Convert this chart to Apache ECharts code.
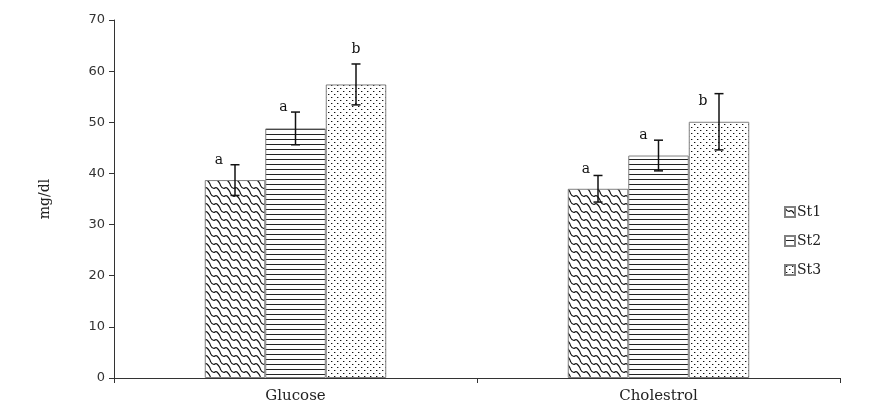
<!DOCTYPE html>
<html>
<head>
<meta charset="utf-8">
<script src="https://cdn.jsdelivr.net/npm/echarts@6/dist/echarts.min.js"></script>
<style>html,body{margin:0;padding:0;background:#fff}#c{width:895px;height:409px}</style>
</head>
<body>
<div id="c"></div>
<script>
// ---- data ----
const categories = ['Glucose', 'Cholestrol'];
const seriesNames = ['St1', 'St2', 'St3'];
const st1 = [38.7, 37.0];
const st2 = [48.8, 43.5];
const st3 = [57.4, 50.1];
const st1Err = [3.0, 2.6];
const st2Err = [3.2, 3.0];
const st3Err = [4.0, 5.5];
const st1Letters = ['a', 'a'];
const st2Letters = ['a', 'a'];
const st3Letters = ['b', 'b'];
const yTicks = [0, 10, 20, 30, 40, 50, 60, 70];

// ---- patterns ----
function tile(w, h, draw) {
  const c = document.createElement('canvas');
  c.width = w; c.height = h;
  const ctx = c.getContext('2d');
  ctx.fillStyle = '#fff';
  ctx.fillRect(0, 0, w, h);
  draw(ctx, w, h);
  return c;
}
const pat1 = tile(10, 8, (ctx, w, h) => {
  ctx.strokeStyle = '#111';
  ctx.lineWidth = 1.1;
  for (const ox of [-w, 0, w]) {
    for (const oy of [-h, 0, h]) {
      ctx.beginPath();
      ctx.moveTo(ox + 0, oy + 0);
      ctx.quadraticCurveTo(ox + 1, oy + 4, ox + 4, oy + 4.5);
      ctx.quadraticCurveTo(ox + 6, oy + 3, ox + 7, oy + 4);
      ctx.quadraticCurveTo(ox + 9, oy + 6, ox + 10, oy + 8);
      ctx.stroke();
    }
  }
});
const pat2 = tile(4, 5, (ctx, w, h) => {
  ctx.fillStyle = '#222';
  ctx.fillRect(0, 4, w, 1);
});
const pat3 = tile(6, 6, (ctx) => {
  ctx.fillStyle = '#111';
  ctx.fillRect(1, 1, 1, 1);
  ctx.fillRect(4, 4, 1, 1);
  ctx.fillStyle = '#aaa';
  ctx.fillRect(2, 1, 1, 1);
  ctx.fillRect(5, 4, 1, 1);
});
const patterns = [pat1, pat2, pat3];

const values = [st1, st2, st3];
const errs = [st1Err, st2Err, st3Err];
const letters = [st1Letters, st2Letters, st3Letters];
// letter placement relative to the error-bar cap (style only)
const letterOffsets = [
  [[-16, 3], [-12, 1]],
  [[-12, 2], [-15, 2]],
  [[0, -8], [-16, 15]]
];

const serif = '"DejaVu Serif", "Liberation Serif", serif';

const barSeries = seriesNames.map((n, s) => ({
  name: n,
  type: 'bar',
  data: values[s],
  barGap: '0%',
  barCategoryGap: '50%',
  itemStyle: {
    color: { image: patterns[s], repeat: 'repeat' },
    borderColor: '#808080',
    borderWidth: 1
  },
  emphasis: { disabled: true }
}));

const errData = [];
for (let s = 0; s < 3; s++) {
  for (let i = 0; i < categories.length; i++) {
    errData.push([i, values[s][i], errs[s][i], s]);
  }
}

const errSeries = {
  type: 'custom',
  silent: true,
  z: 10,
  data: errData,
  encode: { x: 0, y: 1 },
  renderItem: function (params, api) {
    const i = api.value(0);
    const v = api.value(1);
    const e = api.value(2);
    const s = api.value(3);
    const band = api.size([1, 0])[0];
    const barW = band * 0.5 / 3;
    const c = api.coord([i, v]);
    const x = c[0] + (s - 1) * barW;
    const top = api.coord([i, v + e])[1];
    const bot = api.coord([i, v - e])[1];
    const cap = 4.5;
    const st = { stroke: '#111', lineWidth: 1.5 };
    const off = letterOffsets[s][i];
    return {
      type: 'group',
      children: [
        { type: 'line', shape: { x1: x, y1: top, x2: x, y2: bot }, style: st },
        { type: 'line', shape: { x1: x - cap, y1: top, x2: x + cap, y2: top }, style: st },
        { type: 'line', shape: { x1: x - cap, y1: bot, x2: x + cap, y2: bot }, style: st },
        {
          type: 'text',
          x: x + off[0],
          y: top + off[1],
          style: {
            text: letters[s][i],
            fill: '#111',
            font: '14px ' + serif,
            align: 'center',
            verticalAlign: 'bottom'
          }
        }
      ]
    };
  }
};

const chart = echarts.init(document.getElementById('c'));
chart.setOption({
  animation: false,
  backgroundColor: '#fff',
  grid: { left: 114, right: 55, top: 20, bottom: 31, containLabel: false },
  legend: {
    data: seriesNames,
    orient: 'vertical',
    left: 779,
    top: 200,
    itemWidth: 10,
    itemHeight: 10,
    itemGap: 15,
    icon: 'rect',
    selectedMode: false,
    textStyle: { fontFamily: serif, fontSize: 14, color: '#222', padding: [0, 0, 0, -3] }
  },
  xAxis: {
    type: 'category',
    data: categories,
    axisLine: { lineStyle: { color: '#333', width: 1 } },
    axisTick: { show: true, alignWithLabel: false, length: 5, lineStyle: { color: '#333' } },
    axisLabel: { fontFamily: serif, fontSize: 15, color: '#222', margin: 11 }
  },
  yAxis: {
    type: 'value',
    min: yTicks[0],
    max: yTicks[yTicks.length - 1],
    interval: 10,
    name: 'mg/dl',
    nameLocation: 'middle',
    nameRotate: 90,
    nameGap: 62,
    nameTextStyle: { fontFamily: serif, fontSize: 14, color: '#222' },
    axisLine: { show: true, lineStyle: { color: '#333', width: 1 } },
    axisTick: { show: true, length: 5, lineStyle: { color: '#333' } },
    axisLabel: { fontFamily: '"DejaVu Sans", sans-serif', fontSize: 13, color: '#333', margin: 9 },
    splitLine: { show: false }
  },
  series: [...barSeries, errSeries]
});
</script>
</body>
</html>
